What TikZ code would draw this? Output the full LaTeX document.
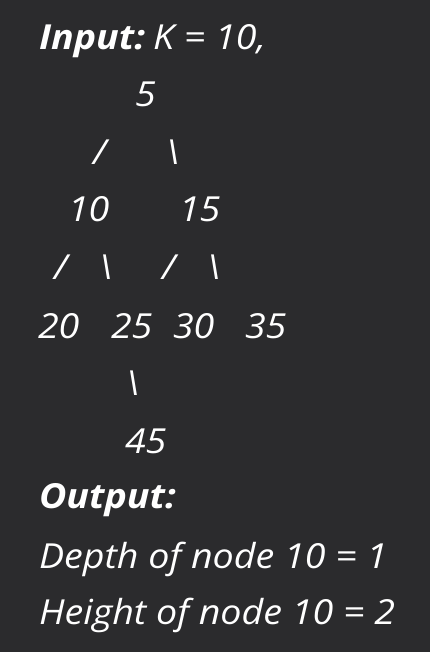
\documentclass[tikz,border=0pt]{standalone}
\usepackage{fontspec}
\setmainfont{Open Sans}[FakeStretch=1.09]
\definecolor{bgc}{HTML}{2B2B2D}
\begin{document}
\begin{tikzpicture}[x=1bp,y=-1bp,
  txt/.style={anchor=base west,inner sep=0pt,outer sep=0pt,text=white,font=\fontsize{34.5bp}{40bp}\selectfont\itshape}]
\fill[bgc] (0,0) rectangle (430,652);
\useasboundingbox (0,0) rectangle (430,652);
\node[txt] (in) at (39,50) {\textbf{Input:}\hspace{-5bp} K = 10,};
\node[txt] (n5) at (135,107) {5};
\node[txt] (s1) at (93,164) {/};
\node[txt] (s2) at (166,164) {\textbackslash};
\node[txt] (n10) at (68,221) {10};
\node[txt] (n15) at (179,221) {15};
\node[txt] (s3) at (54,279) {/};
\node[txt] (s4) at (99,279) {\textbackslash};
\node[txt] (s5) at (162,279) {/};
\node[txt] (s6) at (207,279) {\textbackslash};
\node[txt] (n20) at (38,338) {20};
\node[txt] (n25) at (111,338) {25};
\node[txt] (n30) at (173,338) {30};
\node[txt] (n35) at (245,338) {35};
\node[txt] (s7) at (126,395) {\textbackslash};
\node[txt] (n45) at (125,453) {45};
\node[txt] (out) at (39,508) {\textbf{Output:}};
\node[txt] (dep) at (39,568) {Depth of node 10 = 1};
\node[txt] (hei) at (39,624) {Height of node 10 = 2};
\end{tikzpicture}
\end{document}
